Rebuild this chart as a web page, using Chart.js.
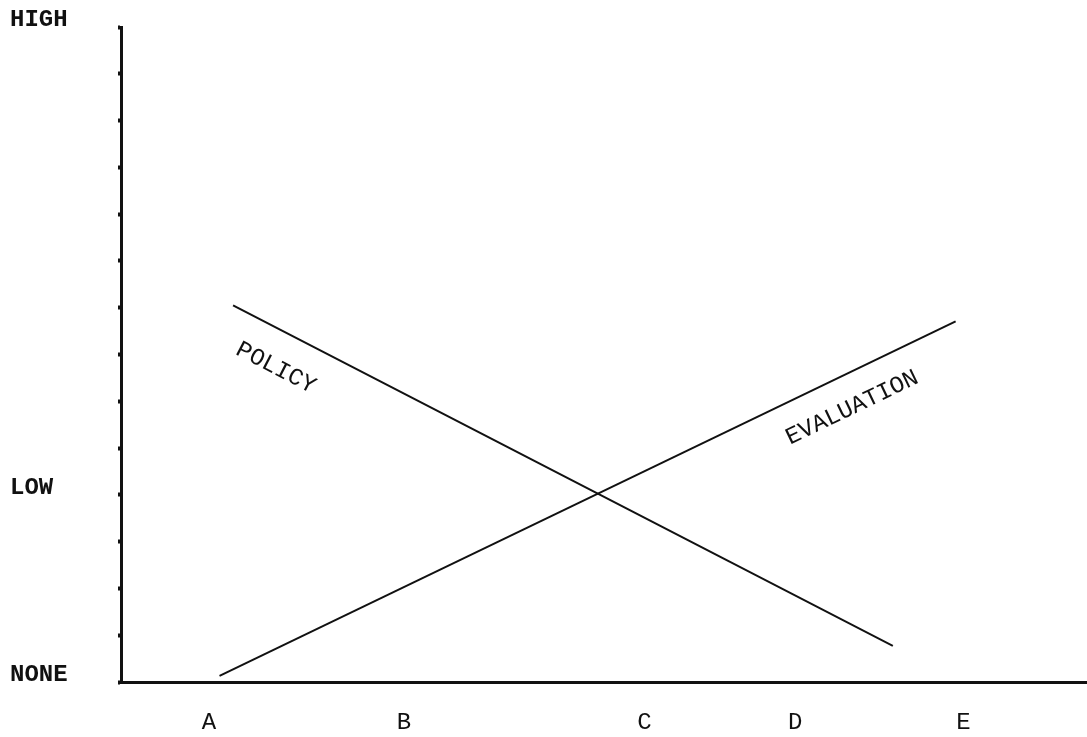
<!DOCTYPE html>
<html>
<head>
<meta charset="utf-8">
<title>Policy vs Evaluation</title>
<script src="https://cdn.jsdelivr.net/npm/chart.js@4.4.1/dist/chart.umd.min.js"></script>
<style>
  html, body { margin: 0; padding: 0; background: #fff; }
  #wrap { width: 1087px; height: 737px; }
</style>
</head>
<body>
<div id="wrap"><canvas id="chart" width="1087" height="737"></canvas></div>
<script>
// ---- data ----
const categories = ['A', 'B', 'C', 'D', 'E'];
const categoryX = [9.1, 29.3, 54.2, 69.8, 87.2];

const levelLabels = ['NONE', 'LOW', 'HIGH'];
const levelValues = [0, 4, 14];

const policyX = [11.6, 79.9];
const policyY = [8.05, 0.77];
const evaluationX = [10.2, 86.4];
const evaluationY = [0.13, 7.71];

const seriesNames = ['POLICY', 'EVALUATION'];

const FONT = "'Liberation Mono', 'DejaVu Sans Mono', monospace";

function toPoints(xs, ys) {
  return xs.map((x, i) => ({ x: x, y: ys[i] }));
}

// writes each series name along its own line, just under it
const lineLabels = {
  id: 'lineLabels',
  afterDatasetsDraw(chart) {
    const { ctx, scales } = chart;
    // where along the line (0..1) the name sits, and how far below it
    const spots = [{ t: 0.09, off: 36 }, { t: 0.84, off: 33 }];
    chart.data.datasets.forEach((ds, i) => {
      const p0 = ds.data[0], p1 = ds.data[ds.data.length - 1];
      const x0 = scales.x.getPixelForValue(p0.x), y0 = scales.y.getPixelForValue(p0.y);
      const x1 = scales.x.getPixelForValue(p1.x), y1 = scales.y.getPixelForValue(p1.y);
      const ang = Math.atan2(y1 - y0, x1 - x0);
      const s = spots[i];
      const cx = x0 + (x1 - x0) * s.t, cy = y0 + (y1 - y0) * s.t;
      ctx.save();
      ctx.translate(cx - Math.sin(ang) * s.off, cy + Math.cos(ang) * s.off);
      ctx.rotate(ang);
      ctx.font = '24px ' + FONT;
      ctx.fillStyle = '#111';
      ctx.textAlign = 'center';
      ctx.textBaseline = 'middle';
      ctx.fillText(seriesNames[i], 0, 0);
      ctx.restore();
    });
  }
};

new Chart(document.getElementById('chart'), {
  type: 'scatter',
  data: {
    datasets: [
      { label: seriesNames[0], data: toPoints(policyX, policyY), showLine: true,
        borderColor: '#111', borderWidth: 2, pointRadius: 0 },
      { label: seriesNames[1], data: toPoints(evaluationX, evaluationY), showLine: true,
        borderColor: '#111', borderWidth: 2, pointRadius: 0 }
    ]
  },
  options: {
    responsive: false,
    animation: false,
    layout: { padding: { left: 10, top: 27, right: 0, bottom: 0 } },
    plugins: { legend: { display: false }, tooltip: { enabled: false } },
    scales: {
      x: {
        type: 'linear', min: 0, max: 100,
        border: { color: '#111', width: 3 },
        grid: { display: false, drawTicks: false },
        afterBuildTicks: scale => { scale.ticks = categoryX.map(v => ({ value: v })); },
        afterFit: scale => { scale.height = 55; },
        ticks: {
          padding: 26, color: '#111', autoSkip: false, maxRotation: 0,
          font: { family: FONT, size: 24 },
          callback: (v) => categories[categoryX.indexOf(v)] ?? ''
        }
      },
      y: {
        type: 'linear', min: 0, max: 14,
        border: { color: '#111', width: 3 },
        grid: { drawOnChartArea: false, drawTicks: true, tickLength: 3, tickWidth: 4, tickColor: '#111' },
        afterBuildTicks: scale => {
          const t = [];
          for (let v = 0; v <= 14; v++) t.push({ value: v });
          scale.ticks = t;
        },
        afterFit: scale => { scale.width = 111; },
        ticks: {
          crossAlign: 'far', labelOffset: -7, color: '#111', autoSkip: false,
          font: { family: FONT, size: 24, weight: 'bold' },
          callback: (v) => {
            const k = levelValues.indexOf(v);
            return k >= 0 ? levelLabels[k] : '';
          }
        }
      }
    }
  },
  plugins: [lineLabels]
});
</script>
</body>
</html>
